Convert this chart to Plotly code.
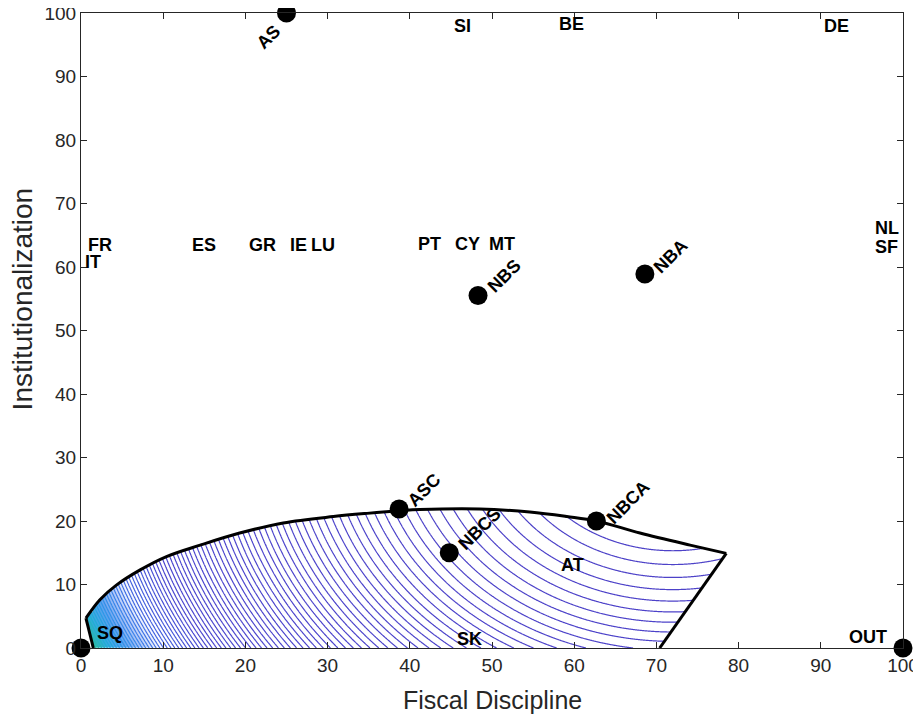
import numpy as np
import plotly.graph_objects as go

# ---------------- data ----------------
# Member-state labels (left edge of label, vertical middle)
country_names = ["FR", "IT", "ES", "GR", "IE", "LU", "PT", "CY", "MT",
                 "NL", "SF", "SI", "BE", "DE", "AT", "SK", "SQ", "OUT"]
country_x = [0.6, 0.2, 13.2, 20.2, 25.2, 27.7, 40.8, 45.3, 49.4,
             96.4, 96.4, 45.1, 57.9, 90.1, 58.1, 45.5, 1.7, 93.2]
country_y = [63.5, 60.8, 63.5, 63.5, 63.5, 63.5, 63.6, 63.6, 63.6,
             66.2, 63.1, 98.0, 98.2, 97.9, 13.1, 1.4, 2.4, 1.7]

# Solution points (black dots)
point_names = ["SQ", "OUT", "AS", "NBS", "NBA", "ASC", "NBCS", "NBCA"]
point_x = [0.0, 100.0, 25.0, 48.3, 68.6, 38.7, 44.8, 62.7]
point_y = [0.0, 0.0, 100.0, 55.5, 58.9, 21.9, 15.0, 20.0]
point_labels = ["", "", "AS", "NBS", "NBA", "ASC", "NBCS", "NBCA"]

# Win-set boundary: left edge, upper curve, right edge (closed along x axis)
win_left_x = [1.5, 0.6]
win_left_y = [0.0, 4.7]
win_top_x = [0.6, 2.3, 4.3, 7.2, 10.4, 14.5, 19.3, 24.6, 30.7, 34.8, 38.7,
             41.2, 48.5, 54.6, 59.1, 62.7, 68.0, 74.1, 78.5]
win_top_y = [4.7, 7.6, 9.9, 12.3, 14.4, 16.2, 18.1, 19.7, 20.7, 21.2, 21.6,
             21.8, 21.9, 21.4, 20.7, 20.0, 18.1, 16.2, 14.9]
win_right_x = [78.5, 70.4]
win_right_y = [14.9, 0.0]

# Indifference-curve field shown inside the win-set
ic_center_x = 72.0
ic_center_y = 35.0
ic_weight_x = 1.1
ic_scale = 32.0
ic_step = 0.13

x_ticks = [0, 10, 20, 30, 40, 50, 60, 70, 80, 90, 100]
y_ticks = [0, 10, 20, 30, 40, 50, 60, 70, 80, 90, 100]
x_title = "Fiscal Discipline"
y_title = "Institutionalization"

# ---------------- styles ----------------
FONT = "Liberation Sans, Arial, Helvetica, sans-serif"
AX = "#262626"
label_shift = {"AS": (-18, -24), "NBS": (26, 20), "NBA": (26, 18),
               "ASC": (25, 19), "NBCS": (30, 24), "NBCA": (32, 19)}

# ---------------- contour field, masked to win-set ----------------
poly_x = win_left_x + win_top_x[1:] + win_right_x[1:]
poly_y = win_left_y + win_top_y[1:] + win_right_y[1:]

gx = np.arange(0.0, 80.0 + 1e-9, 0.1)
gy = np.arange(0.0, 23.0 + 1e-9, 0.1)
XX, YY = np.meshgrid(gx, gy)


def inside(px, py, vx, vy):
    res = np.zeros(px.shape, dtype=bool)
    n = len(vx)
    j = n - 1
    for i in range(n):
        xi, yi, xj, yj = vx[i], vy[i], vx[j], vy[j]
        if yi != yj:
            cond = ((yi > py) != (yj > py)) & (
                px < (xj - xi) * (py - yi) / (yj - yi) + xi)
            res ^= cond
        j = i
    return res


mask = inside(XX, YY, poly_x, poly_y)
R = np.sqrt(ic_weight_x * (XX - ic_center_x) ** 2 + (YY - ic_center_y) ** 2)
Z = np.exp(R / ic_scale)
zin = Z[mask]
zmin, zmax = float(zin.min()), float(zin.max())
Z = np.where(mask, Z, np.nan)

line_scale = [
    [0.0, "#4d42c8"],
    [0.62, "#4b46cf"],
    [0.75, "#4262e0"],
    [0.82, "#3a80ea"],
    [0.90, "#2a9ae6"],
    [0.95, "#1fb0d4"],
    [1.0, "#2bbba2"],
]
fill_scale = [
    [0.0, "rgba(255,255,255,0)"],
    [0.72, "rgba(255,255,255,0)"],
    [0.80, "rgba(70,120,235,0.35)"],
    [0.87, "rgba(45,130,235,0.75)"],
    [0.94, "rgba(30,160,220,0.9)"],
    [1.0, "rgba(40,185,165,1)"],
]

fig = go.Figure()
fig.add_trace(go.Heatmap(
    x=gx, y=gy, z=Z, zmin=zmin, zmax=zmax, zauto=False,
    colorscale=fill_scale, showscale=False, zsmooth="best",
    hoverinfo="skip",
))
fig.add_trace(go.Contour(
    x=gx, y=gy, z=Z,
    zmin=zmin, zmax=zmax, zauto=False,
    contours=dict(coloring="lines", start=zmin, end=zmax, size=ic_step,
                  showlabels=False),
    colorscale=line_scale,
    line=dict(width=1.2),
    showscale=False,
    hoverinfo="skip",
))

for bx, by, shape in ((win_left_x, win_left_y, "linear"),
                      (win_top_x, win_top_y, "spline"),
                      (win_right_x, win_right_y, "linear")):
    fig.add_trace(go.Scatter(
        x=bx, y=by, mode="lines",
        line=dict(color="black", width=3, shape=shape),
        hoverinfo="skip", showlegend=False,
    ))

fig.add_trace(go.Scatter(
    x=point_x, y=point_y, mode="markers",
    marker=dict(color="black", size=19),
    cliponaxis=False, showlegend=False, hovertext=point_names,
))

for name, x, y in zip(country_names, country_x, country_y):
    fig.add_annotation(x=x, y=y, text="<b>%s</b>" % name, showarrow=False,
                       xanchor="left", yanchor="middle",
                       font=dict(family=FONT, size=18, color="black"))

for lab, x, y in zip(point_labels, point_x, point_y):
    if not lab:
        continue
    dx, dy = label_shift[lab]
    fig.add_annotation(x=x, y=y, text="<b>%s</b>" % lab, showarrow=False,
                       xanchor="center", yanchor="middle", textangle=-45,
                       xshift=dx, yshift=dy,
                       font=dict(family=FONT, size=18, color="black"))

# axis titles
fig.add_annotation(xref="paper", yref="paper", x=0.5, y=-0.082,
                   text=x_title, showarrow=False,
                   xanchor="center", yanchor="middle",
                   font=dict(family=FONT, size=25, color=AX))
fig.add_annotation(xref="paper", yref="paper", x=-0.071, y=0.55,
                   text=y_title, showarrow=False, textangle=-90,
                   xanchor="center", yanchor="middle",
                   font=dict(family=FONT, size=28, color=AX))

axis_common = dict(
    range=[0, 100], showline=True, linecolor=AX, linewidth=1,
    mirror="ticks", ticks="inside", ticklen=6, tickcolor=AX, tickwidth=1,
    showgrid=False, zeroline=False, automargin=False,
    ticklabeloverflow="allow",
    tickfont=dict(family=FONT, size=19, color=AX),
)

# the page body has an 8px margin: size the figure so the plot area
# lands at x 81-903, y 13-648 of the 921x717 window
fig.update_layout(
    width=913, height=709, autosize=False,
    margin=dict(l=73, r=18, t=5, b=69),
    paper_bgcolor="white", plot_bgcolor="white",
    showlegend=False,
    xaxis=dict(axis_common, tickvals=x_ticks),
    yaxis=dict(axis_common, tickvals=y_ticks),
)

fig.write_html("out.html")
